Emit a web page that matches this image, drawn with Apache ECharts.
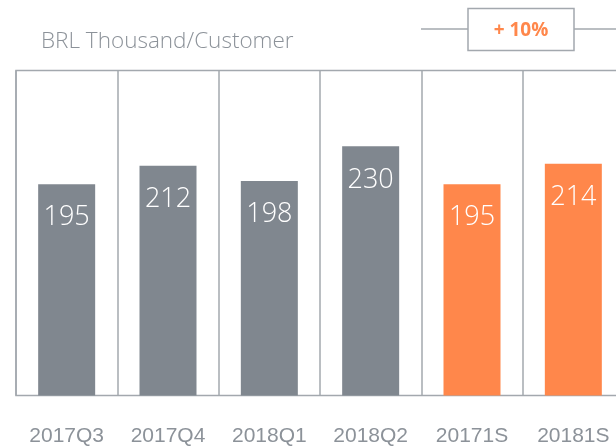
<!DOCTYPE html>
<html>
<head>
<meta charset="utf-8">
<script src="https://cdn.jsdelivr.net/npm/echarts@6/dist/echarts.min.js"></script>
<style>
html,body{margin:0;padding:0;background:#fff;}
#c{width:616px;height:446px;}
</style>
</head>
<body>
<div id="c"></div>
<script>
var categories = ['2017Q3', '2017Q4', '2018Q1', '2018Q2', '20171S', '20181S'];
var values = [195, 212, 198, 230, 195, 214];
var barKinds = ['q', 'q', 'q', 'q', 's', 's'];
var yTicks = [0, 300];
var unitTitle = 'BRL Thousand/Customer';
var growthLabel = '+ 10%';

var GRAY = '#80878f';
var ORANGE = '#ff874b';
var TEXT = '#8c9299';
var LINE = '#a3a8ae';

var chart = echarts.init(document.getElementById('c'), null, {renderer: 'canvas'});
chart.setOption({
  animation: false,
  grid: {
    left: 16, top: 70.5, width: 608, bottom: 50.5,
    outerBoundsMode: 'none',
    containLabel: false,
    show: true, borderColor: LINE, borderWidth: 1.5, backgroundColor: 'transparent'
  },
  xAxis: {
    type: 'category',
    data: categories,
    boundaryGap: true,
    axisLine: {show: false},
    axisTick: {show: false},
    splitLine: {show: true, lineStyle: {color: LINE, width: 1.5}},
    axisLabel: {
      color: TEXT, fontSize: 21, fontFamily: 'Liberation Sans, Arial, sans-serif',
      margin: 30, interval: 0
    }
  },
  yAxis: {
    type: 'value',
    min: yTicks[0], max: yTicks[1],
    show: false,
    splitLine: {show: false}
  },
  series: [{
    type: 'bar',
    barWidth: 57,
    data: values.map(function (v, i) {
      return {value: v, itemStyle: {color: barKinds[i] === 's' ? ORANGE : GRAY}};
    }),
    label: {
      show: true,
      position: 'insideTop',
      distance: 20,
      color: '#ffffff',
      fontSize: 27,
      fontWeight: 300,
      fontFamily: 'Open Sans, Lato, sans-serif'
    }
  }],
  graphic: [
    {
      type: 'text', x: 41, y: 42,
      style: {text: unitTitle, fill: TEXT, fontSize: 22.5, fontWeight: 300,
        fontFamily: 'Open Sans, Lato, sans-serif', verticalAlign: 'middle'}
    },
    {
      type: 'line', shape: {x1: 421, y1: 29, x2: 468, y2: 29},
      style: {stroke: LINE, lineWidth: 1.5}
    },
    {
      type: 'line', shape: {x1: 574, y1: 29, x2: 616, y2: 29},
      style: {stroke: LINE, lineWidth: 1.5}
    },
    {
      type: 'rect', shape: {x: 468, y: 8.5, width: 106, height: 42},
      style: {fill: '#fff', stroke: LINE, lineWidth: 1.5}
    },
    {
      type: 'text', x: 521, y: 31,
      style: {text: growthLabel, fill: ORANGE, fontSize: 19, fontWeight: 'bold',
        fontFamily: 'Open Sans, Lato, sans-serif', align: 'center', verticalAlign: 'middle'}
    }
  ]
});
</script>
</body>
</html>
